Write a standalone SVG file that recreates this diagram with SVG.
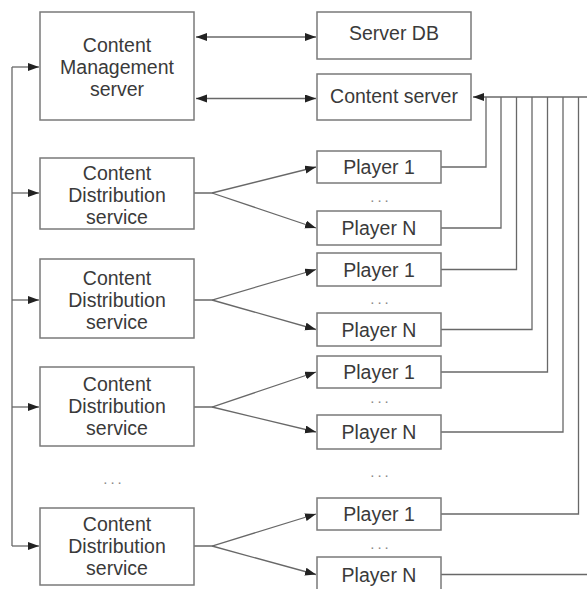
<svg xmlns="http://www.w3.org/2000/svg" width="587" height="589" viewBox="0 0 587 589">
<style>
.box{fill:#fff;stroke:#7a7a7a;stroke-width:1.5}
.t{font-family:"Liberation Sans",Arial,sans-serif;font-size:19.5px;fill:#3a3a3a;text-anchor:middle}
.dots{font-family:"Liberation Sans",Arial,sans-serif;font-size:15px;fill:#888;text-anchor:middle;letter-spacing:3px}
.ln{fill:none;stroke:#686868;stroke-width:1.3}
.a{marker-end:url(#ah)}
.aa{marker-start:url(#ah);marker-end:url(#ah)}
</style>
<defs>
<marker id="ah" markerUnits="userSpaceOnUse" markerWidth="12" markerHeight="9" refX="11" refY="4" orient="auto-start-reverse">
<path d="M0,0 L11,4 L0,8 z" fill="#222"/>
</marker>
</defs>
<rect width="587" height="589" fill="#fff"/>
<g id="connectors">
<line class="ln aa" x1="196" y1="37" x2="316" y2="37"/>
<line class="ln aa" x1="196" y1="98.5" x2="316" y2="98.5"/>
<line class="ln" x1="12" y1="67" x2="12" y2="546"/>
<line class="ln a" x1="12" y1="67" x2="39" y2="67"/>
<line class="ln a" x1="12" y1="193" x2="39" y2="193"/>
<line class="ln a" x1="12" y1="300" x2="39" y2="300"/>
<line class="ln a" x1="12" y1="407" x2="39" y2="407"/>
<line class="ln a" x1="12" y1="546" x2="39" y2="546"/>
<polyline class="ln a" points="194,193 212,193 316,167"/>
<polyline class="ln a" points="212,193 316,228"/>
<polyline class="ln a" points="194,300 212,300 316,269.5"/>
<polyline class="ln a" points="212,300 316,329.5"/>
<polyline class="ln a" points="194,407 212,407 316,372"/>
<polyline class="ln a" points="212,407 316,432"/>
<polyline class="ln a" points="194,546 212,546 316,514"/>
<polyline class="ln a" points="212,546 316,574.5"/>
<line class="ln a" x1="590" y1="97" x2="473" y2="97"/>
<polyline class="ln" points="441,167 486,167 486,97"/>
<polyline class="ln" points="441,228 501,228 501,97"/>
<polyline class="ln" points="441,269.5 516.5,269.5 516.5,97"/>
<polyline class="ln" points="441,329.5 532,329.5 532,97"/>
<polyline class="ln" points="441,372 547.5,372 547.5,97"/>
<polyline class="ln" points="441,432 563,432 563,97"/>
<polyline class="ln" points="441,514 578.5,514 578.5,97"/>
<polyline class="ln" points="441,574.5 592,574.5 592,97"/>
</g>
<g id="cms"><rect class="box" x="40" y="12" width="154" height="108"/>
<text class="t" x="117" y="52">Content</text><text class="t" x="117" y="74">Management</text><text class="t" x="117" y="96">server</text></g>
<g id="serverdb"><rect class="box" x="317" y="12" width="154" height="47"/><text class="t" x="394" y="40">Server DB</text></g>
<g id="contentserver"><rect class="box" x="317" y="74" width="154" height="46"/><text class="t" x="394" y="103">Content server</text></g>
<g id="cds1"><rect class="box" x="40" y="158" width="154" height="71"/>
<text class="t" x="117" y="179.5">Content</text><text class="t" x="117" y="201.5">Distribution</text><text class="t" x="117" y="223.5">service</text></g>
<g id="cds2"><rect class="box" x="40" y="259" width="154" height="79"/>
<text class="t" x="117" y="284.5">Content</text><text class="t" x="117" y="306.5">Distribution</text><text class="t" x="117" y="328.5">service</text></g>
<g id="cds3"><rect class="box" x="40" y="367" width="154" height="79"/>
<text class="t" x="117" y="391">Content</text><text class="t" x="117" y="413">Distribution</text><text class="t" x="117" y="435">service</text></g>
<g id="cds4"><rect class="box" x="40" y="508" width="154" height="77"/>
<text class="t" x="117" y="531">Content</text><text class="t" x="117" y="553">Distribution</text><text class="t" x="117" y="575">service</text></g>
<g id="p1a"><rect class="box" x="317" y="151" width="124" height="32"/><text class="t" x="379" y="174">Player 1</text></g>
<g id="pna"><rect class="box" x="317" y="211" width="124" height="34"/><text class="t" x="379" y="235">Player N</text></g>
<g id="p1b"><rect class="box" x="317" y="253" width="124" height="33"/><text class="t" x="379" y="276.5">Player 1</text></g>
<g id="pnb"><rect class="box" x="317" y="313" width="124" height="33"/><text class="t" x="379" y="336.5">Player N</text></g>
<g id="p1c"><rect class="box" x="317" y="356" width="124" height="32"/><text class="t" x="379" y="379">Player 1</text></g>
<g id="pnc"><rect class="box" x="317" y="415" width="124" height="34"/><text class="t" x="379" y="439">Player N</text></g>
<g id="p1d"><rect class="box" x="317" y="498" width="124" height="32"/><text class="t" x="379" y="521">Player 1</text></g>
<g id="pnd"><rect class="box" x="317" y="557" width="124" height="34"/><text class="t" x="379" y="581.5">Player N</text></g>
<g id="ellipses">
<text class="dots" x="381" y="202">...</text>
<text class="dots" x="381" y="304">...</text>
<text class="dots" x="381" y="403">...</text>
<text class="dots" x="381" y="477">...</text>
<text class="dots" x="381" y="549">...</text>
<text class="dots" x="114" y="484">...</text>
</g>
</svg>
